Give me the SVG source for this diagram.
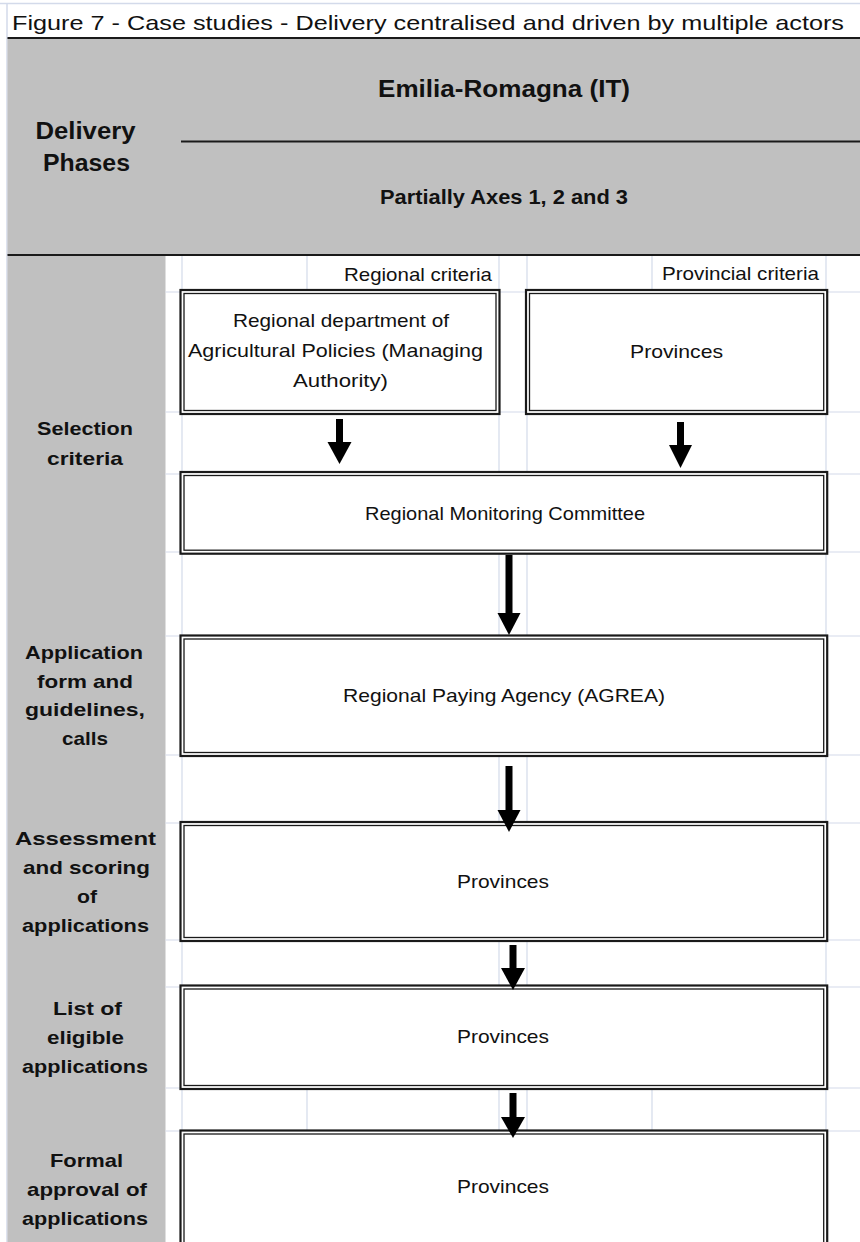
<svg xmlns="http://www.w3.org/2000/svg" width="860" height="1242" viewBox="0 0 860 1242">
<style>
  .t { font-family: "Liberation Sans", Arial, sans-serif; fill: #111; }
  .r { font-size: 19px; }
  .b { font-size: 19px; font-weight: bold; }
  .grid { stroke: #d3daea; stroke-width: 1.2; fill: none; }
  .outer { fill: #fff; stroke: #1a1a1a; stroke-width: 2.2; }
  .inner { fill: none; stroke: #1a1a1a; stroke-width: 1.3; }
  .shaft { fill: #000; }
</style>
<rect x="0" y="0" width="860" height="1242" fill="#fff"/>
<!-- page frame -->
<line x1="0" y1="3.5" x2="860" y2="3.5" stroke="#d3daea" stroke-width="1.5"/>
<line x1="7" y1="3" x2="7" y2="1242" stroke="#d3daea" stroke-width="1.5"/>
<text class="t" x="12" y="30" font-size="21" textLength="832" lengthAdjust="spacingAndGlyphs">Figure 7 - Case studies - Delivery centralised and driven by multiple actors</text>

<!-- header -->
<g id="header">
  <rect x="7.5" y="38" width="852.5" height="217" fill="#c0c0c0"/>
  <line x1="7.5" y1="38" x2="860" y2="38" stroke="#1a1a1a" stroke-width="2"/>
  <line x1="7.5" y1="255" x2="860" y2="255" stroke="#1a1a1a" stroke-width="2"/>
  <line x1="181" y1="141.5" x2="860" y2="141.5" stroke="#1a1a1a" stroke-width="2"/>
  <text class="t" x="85.5" y="139" font-size="23" font-weight="bold" text-anchor="middle" textLength="100" lengthAdjust="spacingAndGlyphs">Delivery</text>
  <text class="t" x="86.5" y="170.5" font-size="23" font-weight="bold" text-anchor="middle" textLength="87" lengthAdjust="spacingAndGlyphs">Phases</text>
  <text class="t" x="504" y="97" font-size="23" font-weight="bold" text-anchor="middle" textLength="252" lengthAdjust="spacingAndGlyphs">Emilia-Romagna (IT)</text>
  <text class="t" x="504" y="204" font-size="19.5" font-weight="bold" text-anchor="middle" textLength="248" lengthAdjust="spacingAndGlyphs">Partially Axes 1, 2 and 3</text>
</g>

<!-- phase column -->
<g id="phases">
  <rect x="7.5" y="256" width="158" height="986" fill="#c0c0c0"/>
  <g id="phase-selection">
    <text class="t b" x="85" y="435" text-anchor="middle" textLength="96" lengthAdjust="spacingAndGlyphs">Selection</text>
    <text class="t b" x="85" y="465" text-anchor="middle" textLength="76" lengthAdjust="spacingAndGlyphs">criteria</text>
  </g>
  <g id="phase-application">
    <text class="t b" x="84" y="659" text-anchor="middle" textLength="118" lengthAdjust="spacingAndGlyphs">Application</text>
    <text class="t b" x="85" y="688" text-anchor="middle" textLength="96" lengthAdjust="spacingAndGlyphs">form and</text>
    <text class="t b" x="85" y="716" text-anchor="middle" textLength="120" lengthAdjust="spacingAndGlyphs">guidelines,</text>
    <text class="t b" x="85" y="745" text-anchor="middle" textLength="46" lengthAdjust="spacingAndGlyphs">calls</text>
  </g>
  <g id="phase-assessment">
    <text class="t b" x="85.5" y="845" text-anchor="middle" textLength="141" lengthAdjust="spacingAndGlyphs">Assessment</text>
    <text class="t b" x="86.5" y="874" text-anchor="middle" textLength="127" lengthAdjust="spacingAndGlyphs">and scoring</text>
    <text class="t b" x="87" y="903" text-anchor="middle" textLength="20" lengthAdjust="spacingAndGlyphs">of</text>
    <text class="t b" x="85.5" y="932" text-anchor="middle" textLength="127" lengthAdjust="spacingAndGlyphs">applications</text>
  </g>
  <g id="phase-list">
    <text class="t b" x="87.5" y="1015" text-anchor="middle" textLength="69" lengthAdjust="spacingAndGlyphs">List of</text>
    <text class="t b" x="85.5" y="1044" text-anchor="middle" textLength="77" lengthAdjust="spacingAndGlyphs">eligible</text>
    <text class="t b" x="85" y="1073" text-anchor="middle" textLength="126" lengthAdjust="spacingAndGlyphs">applications</text>
  </g>
  <g id="phase-formal">
    <text class="t b" x="86.5" y="1167" text-anchor="middle" textLength="73" lengthAdjust="spacingAndGlyphs">Formal</text>
    <text class="t b" x="87" y="1196" text-anchor="middle" textLength="120" lengthAdjust="spacingAndGlyphs">approval of</text>
    <text class="t b" x="85" y="1225" text-anchor="middle" textLength="126" lengthAdjust="spacingAndGlyphs">applications</text>
  </g>
</g>

<!-- spreadsheet grid -->
<g id="grid" class="grid">
  <line x1="182" y1="256" x2="182" y2="1242"/>
  <line x1="307" y1="256" x2="307" y2="292"/>
  <line x1="307" y1="1088" x2="307" y2="1131"/>
  <line x1="499" y1="256" x2="499" y2="1242"/>
  <line x1="527" y1="256" x2="527" y2="1242"/>
  <line x1="652" y1="256" x2="652" y2="292"/>
  <line x1="652" y1="1088" x2="652" y2="1131"/>
  <line x1="826" y1="256" x2="826" y2="1242"/>
  <line x1="165.5" y1="292" x2="860" y2="292"/>
  <line x1="165.5" y1="412" x2="860" y2="412"/>
  <line x1="165.5" y1="474" x2="860" y2="474"/>
  <line x1="165.5" y1="552" x2="860" y2="552"/>
  <line x1="165.5" y1="636" x2="860" y2="636"/>
  <line x1="165.5" y1="755" x2="860" y2="755"/>
  <line x1="165.5" y1="823" x2="860" y2="823"/>
  <line x1="165.5" y1="940" x2="860" y2="940"/>
  <line x1="165.5" y1="987" x2="860" y2="987"/>
  <line x1="165.5" y1="1088" x2="860" y2="1088"/>
  <line x1="165.5" y1="1131" x2="860" y2="1131"/>
</g>

<text class="t r" x="492" y="281" text-anchor="end" textLength="148" lengthAdjust="spacingAndGlyphs">Regional criteria</text>
<text class="t r" x="819" y="280" text-anchor="end" textLength="157" lengthAdjust="spacingAndGlyphs">Provincial criteria</text>

<!-- nodes -->
<g id="node-managing-authority">
  <rect class="outer" x="180.5" y="290" width="319" height="124"/>
  <rect class="inner" x="184" y="293.5" width="312" height="117"/>
  <text class="t r" x="341" y="327" text-anchor="middle" textLength="216" lengthAdjust="spacingAndGlyphs">Regional department of</text>
  <text class="t r" x="335.5" y="357" text-anchor="middle" textLength="295" lengthAdjust="spacingAndGlyphs">Agricultural Policies (Managing</text>
  <text class="t r" x="340.5" y="387" text-anchor="middle" textLength="95" lengthAdjust="spacingAndGlyphs">Authority)</text>
</g>
<g id="node-provinces-criteria">
  <rect class="outer" x="526" y="290" width="301.2" height="124"/>
  <rect class="inner" x="529.5" y="293.5" width="294.2" height="117"/>
  <text class="t r" x="676.5" y="358" text-anchor="middle" textLength="93" lengthAdjust="spacingAndGlyphs">Provinces</text>
</g>
<g id="node-monitoring-committee">
  <rect class="outer" x="180.5" y="472" width="646.7" height="81.7"/>
  <rect class="inner" x="184" y="475.5" width="639.7" height="74.7"/>
  <text class="t r" x="505" y="520" text-anchor="middle" textLength="280" lengthAdjust="spacingAndGlyphs">Regional Monitoring Committee</text>
</g>
<g id="node-paying-agency">
  <rect class="outer" x="180.5" y="635.5" width="646.7" height="120.5"/>
  <rect class="inner" x="184" y="639" width="639.7" height="113.5"/>
  <text class="t r" x="504" y="702" text-anchor="middle" textLength="322" lengthAdjust="spacingAndGlyphs">Regional Paying Agency (AGREA)</text>
</g>
<g id="node-provinces-assessment">
  <rect class="outer" x="180.5" y="822" width="646.7" height="119"/>
  <rect class="inner" x="184" y="825.5" width="639.7" height="112"/>
  <text class="t r" x="503" y="888" text-anchor="middle" textLength="92" lengthAdjust="spacingAndGlyphs">Provinces</text>
</g>
<g id="node-provinces-list">
  <rect class="outer" x="180.5" y="985.5" width="646.7" height="103.5"/>
  <rect class="inner" x="184" y="989" width="639.7" height="96.5"/>
  <text class="t r" x="503" y="1043" text-anchor="middle" textLength="92" lengthAdjust="spacingAndGlyphs">Provinces</text>
</g>
<g id="node-provinces-approval">
  <rect class="outer" x="180.5" y="1130.5" width="646.7" height="140"/>
  <rect class="inner" x="184" y="1134" width="639.7" height="140"/>
  <text class="t r" x="503" y="1193" text-anchor="middle" textLength="92" lengthAdjust="spacingAndGlyphs">Provinces</text>
</g>

<!-- connectors -->
<g id="connectors" fill="#000">
  <rect x="336" y="419" width="7" height="24"/>
  <polygon points="327.5,442 351.5,442 339.5,464"/>
  <rect x="677" y="422" width="7" height="24"/>
  <polygon points="669,445 692,445 680.5,468"/>
  <rect x="505.5" y="555" width="7" height="59"/>
  <polygon points="497.5,613 520.5,613 509,635"/>
  <rect x="505.5" y="766" width="7" height="45"/>
  <polygon points="497.5,810 520.5,810 509,832"/>
  <rect x="509.5" y="945" width="7" height="24"/>
  <polygon points="501,968 525,968 513,990"/>
  <rect x="509.5" y="1093" width="7" height="25"/>
  <polygon points="501,1117 525,1117 513,1138"/>
</g>
</svg>
